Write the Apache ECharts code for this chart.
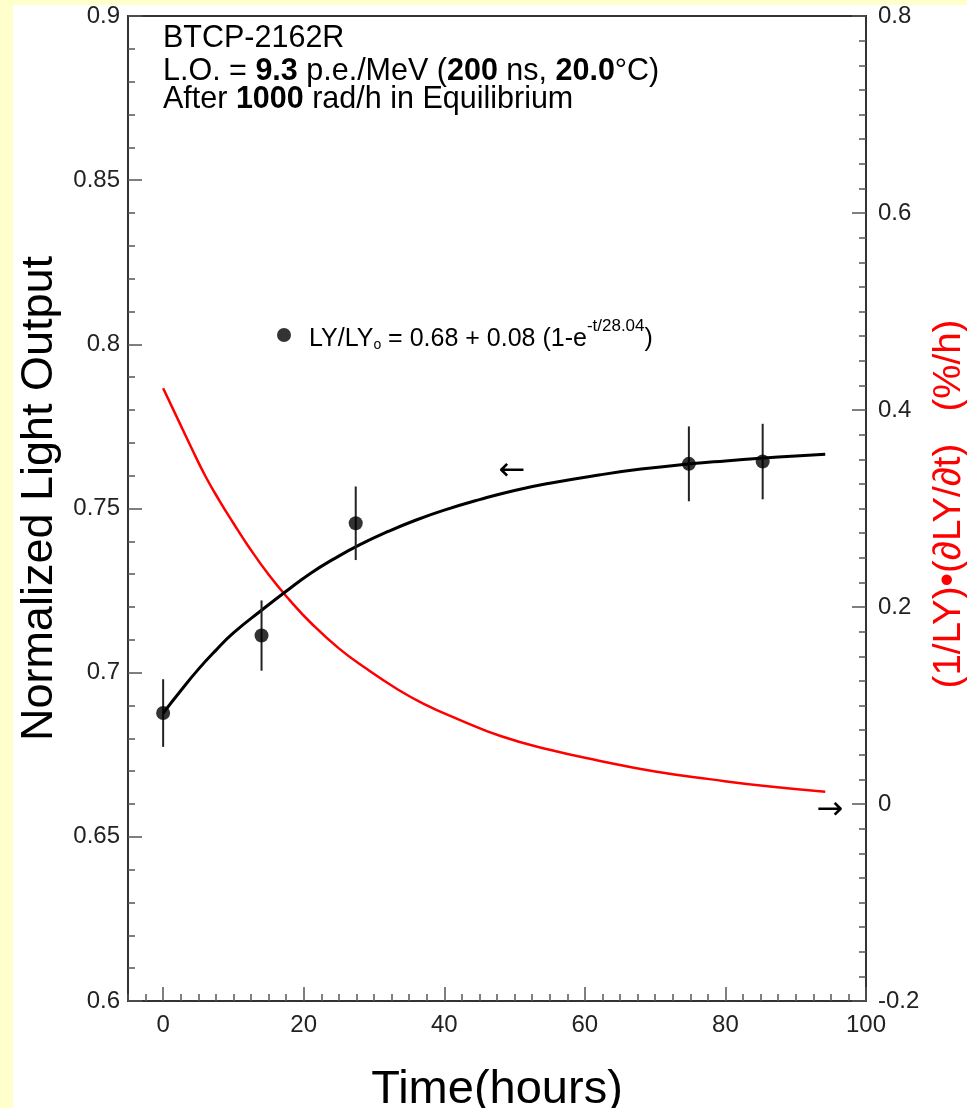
<!DOCTYPE html>
<html><head><meta charset="utf-8">
<script src="https://cdn.jsdelivr.net/npm/echarts@6/dist/echarts.min.js"></script>
<style>
html,body{margin:0;padding:0;background:#FFFFCC;width:967px;height:1108px;overflow:hidden}
#c{position:absolute;left:13px;top:5px;width:954px;height:1103px;background:#fff}
</style></head><body><div id="c"></div>
<script>
// ---- data ----
const fitTime = [0, 2.5, 5, 7.5, 10, 14, 17.5, 21, 24.5, 28, 32, 36, 40, 45, 50, 55, 62, 68, 75, 80, 85, 90, 94.2];
const fitValue = [0.6877, 0.6945, 0.701, 0.7068, 0.7121, 0.719, 0.7248, 0.7303, 0.7349, 0.739, 0.743, 0.7465, 0.7495, 0.7527, 0.7555, 0.7577, 0.7602, 0.762, 0.7636, 0.7645, 0.7653, 0.766, 0.7665];
const rateTime = [0, 2, 4, 6, 8, 10, 12, 15, 18, 21, 25, 29, 33, 37, 42, 48, 55, 62, 70, 78, 86, 94.2];
const rateValue = [0.422, 0.392, 0.362, 0.333, 0.308, 0.285, 0.263, 0.233, 0.207, 0.184, 0.158, 0.137, 0.118, 0.102, 0.086, 0.069, 0.055, 0.044, 0.033, 0.025, 0.018, 0.0125];
const pointTime = [0, 14, 27.4, 74.8, 85.3];
const pointValue = [0.6877, 0.7113, 0.7455, 0.7636, 0.7643];
const pointError = [0.0103, 0.0107, 0.0112, 0.0114, 0.0115];
const xMajorTicks = [0, 20, 40, 60, 80, 100];

const FONT = '"Liberation Sans", Arial, Helvetica, sans-serif';
const AXIS_COLOR = '#333';
const TICK_COLOR = '#555';

const chart = echarts.init(document.getElementById('c'), null, {renderer: 'canvas'});

const fitData = fitTime.map((t, i) => [t, fitValue[i]]);
const rateData = rateTime.map((t, i) => [t, rateValue[i]]);
const pointData = pointTime.map((t, i) => [t, pointValue[i]]);
const errData = pointTime.map((t, i) => [t, pointValue[i], pointError[i]]);

const tickStyle = {color: TICK_COLOR, width: 1.5};
const labelStyle = {fontSize: 24, fontFamily: FONT, color: '#222'};

const option = {
  animation: false,
  backgroundColor: '#ffffff',
  grid: {left: 115, top: 11, width: 738, height: 985, show: true, borderColor: AXIS_COLOR, borderWidth: 2,
         backgroundColor: '#fff', containLabel: false, outerBoundsMode: 'none'},
  legend: {
    show: true, left: 264, top: 313, padding: 0, selectedMode: false,
    itemWidth: 14, itemHeight: 14,
    data: [{name: 'points', icon: 'circle'}],
    formatter: () => '{g| }{a|LY/LY}{o|o}{a| = 0.68 + 0.08 (1-e}{s|-t/28.04}{a|)}',
    textStyle: {
      rich: {
        g: {width: 13, lineHeight: 34},
        a: {fontSize: 25, fontFamily: FONT, color: '#000', verticalAlign: 'bottom'},
        o: {fontSize: 14, fontFamily: FONT, color: '#000', verticalAlign: 'bottom'},
        s: {fontSize: 17, fontFamily: FONT, color: '#000', verticalAlign: 'top'}
      }
    }
  },
  xAxis: [
    {
      type: 'value', min: -5, max: 100, interval: 2.5, position: 'bottom',
      name: 'Time(hours)', nameLocation: 'middle', nameGap: 66,
      nameTextStyle: {fontSize: 47, fontFamily: FONT, color: '#000'},
      axisLine: {show: true, onZero: false, lineStyle: {color: AXIS_COLOR, width: 2}},
      axisTick: {show: true, inside: true, length: 7, lineStyle: tickStyle},
      axisLabel: Object.assign({margin: 12, formatter: v => (v % 20 === 0 ? String(v) : '')}, labelStyle),
      splitLine: {show: false}
    },
    {
      type: 'value', min: -5, max: 100, position: 'bottom',
      axisLine: {show: false, onZero: false},
      axisTick: {show: true, inside: true, length: 14, customValues: xMajorTicks, lineStyle: tickStyle},
      axisLabel: {show: false},
      splitLine: {show: false}
    }
  ],
  yAxis: [
    {
      type: 'value', min: 0.6, max: 0.9, interval: 0.05, position: 'left',
      name: 'Normalized Light Output', nameLocation: 'middle', nameRotate: 90, nameGap: 56,
      nameTextStyle: {fontSize: 45, fontFamily: FONT, color: '#000', padding: [0, 0, 0, 20]},
      axisLine: {show: true, onZero: false, lineStyle: {color: AXIS_COLOR, width: 2}},
      axisTick: {show: true, inside: true, length: 14, lineStyle: tickStyle},
      minorTick: {show: true, splitNumber: 5, length: 7, lineStyle: tickStyle},
      axisLabel: Object.assign({margin: 8, padding: [5, 0, 0, 0]}, labelStyle),
      splitLine: {show: false}, minorSplitLine: {show: false}
    },
    {
      type: 'value', min: -0.2, max: 0.8, interval: 0.2, position: 'right',
      name: '(1/LY)\u2022(\u2202LY/\u2202t)   (%/h)', nameLocation: 'middle', nameRotate: 90, nameGap: 64,
      nameTextStyle: {fontSize: 38.5, fontFamily: FONT, color: '#ff0000', padding: [0, 0, 0, 9]},
      axisLine: {show: true, onZero: false, lineStyle: {color: AXIS_COLOR, width: 2}},
      axisTick: {show: true, inside: true, length: 14, lineStyle: tickStyle},
      minorTick: {show: true, splitNumber: 8, length: 7, lineStyle: tickStyle},
      axisLabel: Object.assign({margin: 12, padding: [4, 0, 0, 0]}, labelStyle),
      splitLine: {show: false}, minorSplitLine: {show: false}
    }
  ],
  graphic: [
    {type: 'text', z: 100, style: {x: 150, y: 34, verticalAlign: 'middle', text: 'BTCP-2162R',
      fontSize: 30.5, fontFamily: FONT, fill: '#000'}},
    {type: 'text', z: 100, style: {x: 150, y: 67, verticalAlign: 'middle',
      text: '{n|L.O. = }{b|9.3}{n| p.e./MeV (}{b|200}{n| ns, }{b|20.0}{n|\u00B0C)}',
      rich: {n: {fontSize: 30.5, fontFamily: FONT, fill: '#000'}, b: {fontSize: 30.5, fontFamily: FONT, fontWeight: 'bold', fill: '#000'}}}},
    {type: 'text', z: 100, style: {x: 150, y: 95, verticalAlign: 'middle',
      text: '{n|After }{b|1000}{n| rad/h in Equilibrium}',
      rich: {n: {fontSize: 30.5, fontFamily: FONT, fill: '#000'}, b: {fontSize: 30.5, fontFamily: FONT, fontWeight: 'bold', fill: '#000'}}}},
    {type: 'text', z: 100, style: {x: 499, y: 467, align: 'center', verticalAlign: 'middle', text: '\u2190',
      fontSize: 32, fontFamily: '"DejaVu Sans", sans-serif', fill: '#000'}},
    {type: 'text', z: 100, style: {x: 817, y: 806, align: 'center', verticalAlign: 'middle', text: '\u2192',
      fontSize: 32, fontFamily: '"DejaVu Sans", sans-serif', fill: '#000'}}
  ],
  series: [
    {
      name: 'fit', type: 'line', xAxisIndex: 0, yAxisIndex: 0, data: fitData,
      smooth: 0.5, showSymbol: false, symbol: 'none', z: 3,
      lineStyle: {color: '#000', width: 3}
    },
    {
      name: 'rate', type: 'line', xAxisIndex: 0, yAxisIndex: 1, data: rateData,
      smooth: 0.5, showSymbol: false, symbol: 'none', z: 2,
      lineStyle: {color: '#ff0000', width: 2.5}
    },
    {
      name: 'errors', type: 'custom', xAxisIndex: 0, yAxisIndex: 0, data: errData, z: 4,
      encode: {x: 0, y: 1},
      renderItem: (params, api) => {
        const x = api.value(0), y = api.value(1), e = api.value(2);
        const a = api.coord([x, y + e]);
        const b = api.coord([x, y - e]);
        return {type: 'line', shape: {x1: a[0], y1: a[1], x2: b[0], y2: b[1]},
                style: {stroke: '#222', lineWidth: 2}};
      }
    },
    {
      name: 'points', type: 'scatter', xAxisIndex: 0, yAxisIndex: 0, data: pointData,
      symbol: 'circle', symbolSize: 14, z: 5,
      itemStyle: {color: '#000'}
    }
  ]
};
chart.setOption(option);
</script>
</body></html>
